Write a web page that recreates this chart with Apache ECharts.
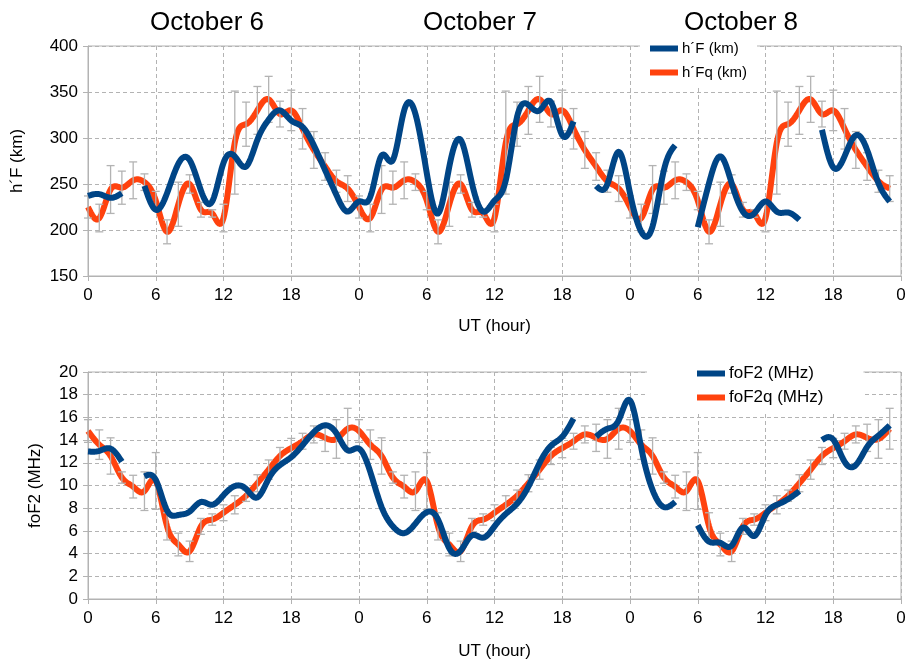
<!DOCTYPE html>
<html>
<head>
<meta charset="utf-8">
<script src="https://cdn.jsdelivr.net/npm/echarts@6/dist/echarts.min.js"></script>
<style>
  html, body { margin: 0; padding: 0; background: #fff; }
  #chart { width: 910px; height: 663px; }
</style>
</head>
<body>
<div id="chart"></div>
<script>
// Ionosonde parameters, hourly UT over three days (hour index 0..71)
const dayLabels = ['October 6', 'October 7', 'October 8'];

// Virtual height of the F layer (km); null = no sounding
const hF = [
  237, 239, 235, 240, null, 248, 222, 240, 272, 276, 243, 231, 273, 280, 269, 298, 320, 330, 319, 312, 292, 265, 238, 220,
  231, 236, 281, 276, 330, 326, 262, 218, 269, 298, 251, 220, 232, 254, 323, 336, 330, 339, 303, 318, null, 248, 250, 285,
  240, 198, 204, 265, 292, null, 203, 251, 280, 251, 220, 218, 231, 220, 219, 211, null, 309, 268, 280, 303, 287, 251, 231
];
// Quiet-day reference h'F (km) and its spread
const hFq = [
  225, 213, 244, 246, 254, 252, 232, 198, 228, 250, 222, 218, 213, 295, 315, 330, 342, 326, 330, 310, 287, 269, 253, 245,
  225, 213, 244, 246, 254, 252, 232, 198, 228, 250, 222, 218, 213, 295, 315, 330, 342, 326, 330, 310, 287, 269, 253, 245,
  225, 213, 244, 246, 254, 252, 232, 198, 228, 250, 222, 218, 213, 295, 315, 330, 342, 326, 330, 310, 287, 269, 253, 245
];
const hFqErr = [
  12, 15, 26, 18, 20, 9, 10, 13, 24, 10, 8, 4, 15, 56, 24, 26, 25, 14, 22, 22, 20, 15, 12, 14,
  12, 15, 26, 18, 20, 9, 10, 13, 24, 10, 8, 4, 15, 56, 24, 26, 25, 14, 22, 22, 20, 15, 12, 14,
  12, 15, 26, 18, 20, 9, 10, 13, 24, 10, 8, 4, 15, 56, 24, 26, 25, 14, 22, 22, 20, 15, 12, 14
];

// Critical frequency of the F2 layer (MHz)
const foF2 = [
  13.0, 13.05, 13.25, 12.1, null, 10.8, 10.5, 7.8, 7.4, 7.7, 8.55, 8.3, 9.15, 9.95, 9.7, 8.95, 10.6, 11.8, 12.5, 13.55, 14.7, 15.3, 14.6, 13.1,
  13.25, 11.2, 8.1, 6.4, 5.8, 6.65, 7.65, 7.0, 4.45, 4.25, 5.6, 5.4, 6.4, 7.5, 8.4, 9.9, 12.0, 13.5, 14.3, 15.9, null, 14.3, 15.0, 15.75,
  17.5, 13.3, 9.6, 8.1, 8.56, null, 6.5, 5.05, 4.95, 4.7, 6.3, 5.55, 7.4, 8.3, 8.8, 9.5, null, 14.0, 14.05, 12.1, 11.8, 13.4, 14.4, 15.3
];
// Quiet-day reference foF2 (MHz) and its spread
const foF2q = [
  14.8, 13.6, 12.6, 10.7, 9.9, 9.5, 10.4, 6.4, 4.8, 4.2, 6.4, 7.0, 7.6, 8.3, 9.1, 10.2, 11.4, 12.6, 13.3, 13.9, 14.5, 14.2, 14.1, 15.0,
  14.8, 13.6, 12.6, 10.7, 9.9, 9.5, 10.4, 6.4, 4.8, 4.2, 6.4, 7.0, 7.6, 8.3, 9.1, 10.2, 11.4, 12.6, 13.3, 13.9, 14.5, 14.2, 14.1, 15.0,
  14.8, 13.6, 12.6, 10.7, 9.9, 9.5, 10.4, 6.4, 4.8, 4.2, 6.4, 7.0, 7.6, 8.3, 9.1, 10.2, 11.4, 12.6, 13.3, 13.9, 14.5, 14.2, 14.1, 15.0
];
const foF2qErr = [
  1.0, 1.3, 1.6, 0.5, 1.0, 1.7, 2.5, 1.2, 1.0, 0.9, 0.7, 0.5, 0.7, 0.8, 0.5, 0.75, 0.85, 0.75, 0.85, 0.7, 0.75, 1.2, 1.7, 1.8,
  1.0, 1.3, 1.6, 0.5, 1.0, 1.7, 2.5, 1.2, 1.0, 0.9, 0.7, 0.5, 0.7, 0.8, 0.5, 0.75, 0.85, 0.75, 0.85, 0.7, 0.75, 1.2, 1.7, 1.8,
  1.0, 1.3, 1.6, 0.5, 1.0, 1.7, 2.5, 1.2, 1.0, 0.9, 0.7, 0.5, 0.7, 0.8, 0.5, 0.75, 0.85, 0.75, 0.85, 0.7, 0.75, 1.2, 1.7, 1.8
];

const FONT = '"Liberation Sans", Arial, sans-serif';
const BLUE = '#004586';
const ORANGE = '#ff420e';
const GRIDC = '#b3b3b3';

// Split an hourly series into runs of consecutive non-null values
function runsOf(values) {
  const runs = [];
  let cur = [];
  values.forEach((v, i) => {
    if (v == null) { if (cur.length) runs.push(cur); cur = []; }
    else cur.push([i, v]);
  });
  if (cur.length) runs.push(cur);
  return runs;
}

// Natural cubic spline through equally spaced points (unit step)
function splineCurve(run, steps) {
  const n = run.length;
  const y = run.map(p => p[1]);
  if (n < 3) return run.slice();
  const M = new Array(n).fill(0);
  const a = [], b = [], c = [], d = [];
  for (let i = 1; i < n - 1; i++) {
    a.push(1); b.push(4); c.push(1); d.push(6 * (y[i + 1] - 2 * y[i] + y[i - 1]));
  }
  const m = d.length;
  for (let i = 1; i < m; i++) {
    const w = a[i] / b[i - 1];
    b[i] -= w * c[i - 1];
    d[i] -= w * d[i - 1];
  }
  const sol = new Array(m);
  sol[m - 1] = d[m - 1] / b[m - 1];
  for (let i = m - 2; i >= 0; i--) sol[i] = (d[i] - c[i] * sol[i + 1]) / b[i];
  for (let i = 0; i < m; i++) M[i + 1] = sol[i];
  const out = [];
  for (let i = 0; i < n - 1; i++) {
    for (let s = 0; s < steps; s++) {
      const t = s / steps, u = 1 - t;
      const v = u * y[i] + t * y[i + 1] + ((u * u * u - u) * M[i] + (t * t * t - t) * M[i + 1]) / 6;
      out.push([run[i][0] + t, v]);
    }
  }
  out.push(run[n - 1].slice());
  return out;
}

function curveSeries(name, values, color, axis, z) {
  const curves = runsOf(values).map(r => splineCurve(r, 12));
  return {
    name, type: 'custom', xAxisIndex: axis, yAxisIndex: axis, z, silent: true,
    color, itemStyle: { color },
    data: values.map((v, i) => [i, v]),
    encode: { x: 0, y: 1 },
    renderItem(params, api) {
      if (params.dataIndex !== 0) return null;
      return {
        type: 'group',
        children: curves.map(pts => ({
          type: 'polyline',
          shape: { points: pts.map(p => api.coord(p)) },
          style: { stroke: color, lineWidth: 6, fill: null, lineJoin: 'round', lineCap: 'butt' }
        }))
      };
    }
  };
}

function errorBars(values, errs, axis) {
  return {
    type: 'custom', xAxisIndex: axis, yAxisIndex: axis, z: 3, silent: true,
    data: values.map((v, i) => [i, v, errs[i]]),
    encode: { x: 0, y: 1 },
    renderItem(params, api) {
      const x = api.value(0), v = api.value(1), e = api.value(2);
      const hi = api.coord([x, v + e]);
      const lo = api.coord([x, v - e]);
      const w = 4;
      const st = { stroke: GRIDC, lineWidth: 1.3 };
      return {
        type: 'group',
        children: [
          { type: 'line', shape: { x1: hi[0], y1: hi[1], x2: lo[0], y2: lo[1] }, style: st },
          { type: 'line', shape: { x1: hi[0] - w, y1: hi[1], x2: hi[0] + w, y2: hi[1] }, style: st },
          { type: 'line', shape: { x1: lo[0] - w, y1: lo[1], x2: lo[0] + w, y2: lo[1] }, style: st }
        ]
      };
    }
  };
}

function xAxisFor(idx) {
  return {
    gridIndex: idx, type: 'value', min: 0, max: 72, interval: 6,
    name: 'UT (hour)', nameLocation: 'middle', nameGap: idx === 0 ? 42 : 44,
    nameTextStyle: { fontFamily: FONT, fontSize: 17, color: '#000' },
    axisLine: { show: true, onZero: false, lineStyle: { color: GRIDC, width: 1 } },
    axisTick: { show: true, length: 5, lineStyle: { color: GRIDC } },
    axisLabel: { fontFamily: FONT, fontSize: 17, color: '#000', margin: 11, formatter: v => String(v % 24) },
    splitLine: { show: true, lineStyle: { color: GRIDC, type: [4, 3], width: 1 } }
  };
}

function yAxisFor(idx, name, min, max, interval, gap) {
  return {
    gridIndex: idx, type: 'value', min, max, interval,
    name, nameLocation: 'middle', nameGap: gap, nameRotate: 90,
    nameTextStyle: { fontFamily: FONT, fontSize: 17, color: '#000' },
    axisLine: { show: true, lineStyle: { color: GRIDC, width: 1 } },
    axisTick: { show: true, length: 5, lineStyle: { color: GRIDC } },
    axisLabel: { fontFamily: FONT, fontSize: 17, color: '#000', margin: 10 },
    splitLine: { show: true, lineStyle: { color: GRIDC, type: [4, 3], width: 1 } }
  };
}

const titleX = [202, 475, 736];

const option = {
  backgroundColor: '#fff',
  animation: false,
  title: dayLabels.map((t, i) => ({
    text: t, left: titleX[i], top: 5, textAlign: 'center',
    textStyle: { fontFamily: FONT, fontSize: 26, fontWeight: 'normal', color: '#000' }
  })),
  grid: [
    { left: 88, top: 46, width: 813, height: 230, show: true, borderColor: GRIDC, borderWidth: 1, backgroundColor: 'transparent' },
    { left: 88, top: 372, width: 813, height: 227, show: true, borderColor: GRIDC, borderWidth: 1, backgroundColor: 'transparent' }
  ],
  legend: [
    {
      data: ["h\u00B4F (km)", "h\u00B4Fq (km)"],
      orient: 'vertical', left: 640, top: 36,
      padding: [5, 10, 6, 10], itemGap: 9,
      itemWidth: 28, itemHeight: 6, icon: 'rect',
      backgroundColor: '#fff',
      textStyle: { fontFamily: FONT, fontSize: 15, color: '#000', padding: [0, 0, 0, -1] }
    },
    {
      data: ['foF2 (MHz)', 'foF2q (MHz)'],
      orient: 'vertical', left: 647, top: 360,
      padding: [5, 40, 6, 50], itemGap: 7,
      itemWidth: 28, itemHeight: 6, icon: 'rect',
      backgroundColor: '#fff',
      textStyle: { fontFamily: FONT, fontSize: 17, color: '#000', padding: [0, 0, 0, -1] }
    }
  ],
  xAxis: [xAxisFor(0), xAxisFor(1)],
  yAxis: [
    yAxisFor(0, "h\u00B4F (km)", 150, 400, 50, 62),
    yAxisFor(1, 'foF2 (MHz)', 0, 20, 2, 44)
  ],
  series: [
    curveSeries("h\u00B4Fq (km)", hFq, ORANGE, 0, 2),
    errorBars(hFq, hFqErr, 0),
    curveSeries("h\u00B4F (km)", hF, BLUE, 0, 4),
    curveSeries('foF2q (MHz)', foF2q, ORANGE, 1, 2),
    errorBars(foF2q, foF2qErr, 1),
    curveSeries('foF2 (MHz)', foF2, BLUE, 1, 4)
  ]
};

const chart = echarts.init(document.getElementById('chart'), null, { renderer: 'canvas' });
chart.setOption(option);
</script>
</body>
</html>
